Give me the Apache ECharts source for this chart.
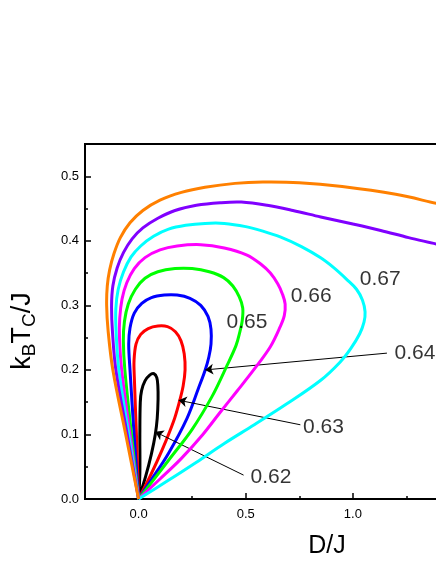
<!DOCTYPE html>
<html>
<head>
  <meta charset="utf-8">
  <title></title>
  <script src="https://cdn.jsdelivr.net/npm/echarts@6/dist/echarts.min.js"></script>
  <style>
    html, body { margin: 0; padding: 0; background: #fff; }
    #main { width: 436px; height: 564px; }
  </style>
</head>
<body>
  <div id="main"></div>
  <script type="text/javascript">
    // curves, [D/J, kBTc/J]
    var t062 = [[0,0],[0.006,0.04],[0.006,0.1],[0.008,0.15],[0.014,0.168],[0.03,0.183],[0.052,0.192],[0.072,0.194],[0.085,0.188],[0.09,0.175],[0.091,0.155],[0.087,0.125],[0.078,0.1],[0.06,0.07],[0.033,0.035],[0,0]];
    var t063 = [[0,0],[-0.01,0.1],[-0.02,0.19],[-0.021,0.215],[-0.012,0.24],[0.01,0.255],[0.045,0.264],[0.09,0.268],[0.135,0.267],[0.172,0.259],[0.198,0.245],[0.213,0.225],[0.217,0.2],[0.208,0.175],[0.19,0.15],[0.163,0.12],[0.11,0.076],[0.055,0.036],[0,0]];
    var t064 = [[0,0],[-0.021,0.1],[-0.04,0.2],[-0.046,0.24],[-0.04,0.265],[-0.02,0.288],[0.015,0.303],[0.06,0.312],[0.12,0.316],[0.18,0.316],[0.24,0.311],[0.29,0.3],[0.324,0.283],[0.338,0.263],[0.338,0.24],[0.328,0.22],[0.311,0.2],[0.28,0.172],[0.226,0.125],[0.14,0.071],[0.058,0.029],[0,0]];
    var t065 = [[0,0],[-0.033,0.1],[-0.064,0.2],[-0.071,0.245],[-0.066,0.275],[-0.048,0.302],[-0.015,0.325],[0.03,0.342],[0.09,0.352],[0.17,0.357],[0.25,0.357],[0.33,0.352],[0.397,0.343],[0.44,0.33],[0.47,0.313],[0.486,0.296],[0.484,0.277],[0.472,0.258],[0.455,0.238],[0.413,0.207],[0.343,0.159],[0.25,0.108],[0.14,0.06],[0.05,0.021],[0,0]];
    var t066 = [[0,0],[-0.04,0.1],[-0.079,0.2],[-0.089,0.25],[-0.088,0.28],[-0.077,0.31],[-0.055,0.335],[-0.02,0.357],[0.03,0.374],[0.1,0.386],[0.18,0.392],[0.29,0.394],[0.4,0.389],[0.506,0.378],[0.57,0.364],[0.615,0.35],[0.65,0.333],[0.672,0.317],[0.684,0.302],[0.68,0.284],[0.661,0.267],[0.615,0.236],[0.537,0.2],[0.459,0.167],[0.38,0.134],[0.3,0.1],[0.2,0.063],[0.1,0.031],[0,0]];
    var t067 = [[0,0],[-0.046,0.1],[-0.092,0.2],[-0.105,0.26],[-0.106,0.295],[-0.095,0.325],[-0.07,0.352],[-0.035,0.375],[0.01,0.392],[0.07,0.407],[0.14,0.418],[0.22,0.424],[0.31,0.427],[0.4,0.427],[0.5,0.422],[0.58,0.415],[0.661,0.406],[0.76,0.391],[0.848,0.374],[0.912,0.358],[0.972,0.34],[1.017,0.325],[1.045,0.308],[1.057,0.29],[1.052,0.274],[1.032,0.256],[0.99,0.233],[0.94,0.212],[0.85,0.184],[0.69,0.147],[0.54,0.115],[0.4,0.086],[0.27,0.057],[0.13,0.027],[0,0]];
    var t068 = [[0,0],[-0.053,0.1],[-0.106,0.2],[-0.122,0.26],[-0.126,0.3],[-0.12,0.33],[-0.1,0.358],[-0.07,0.382],[-0.03,0.403],[0.02,0.42],[0.09,0.435],[0.17,0.447],[0.27,0.455],[0.38,0.459],[0.48,0.46],[0.6,0.455],[0.72,0.447],[0.85,0.437],[1.0,0.426],[1.13,0.416],[1.26,0.405],[1.39,0.395],[1.5,0.386]];
    var t069 = [[0,0],[-0.06,0.1],[-0.12,0.2],[-0.142,0.26],[-0.149,0.3],[-0.146,0.33],[-0.135,0.355],[-0.115,0.38],[-0.085,0.405],[-0.04,0.428],[0.02,0.447],[0.1,0.463],[0.2,0.475],[0.31,0.483],[0.45,0.489],[0.58,0.491],[0.75,0.49],[0.95,0.484],[1.2,0.472],[1.39,0.458],[1.5,0.45]];

    var curves = [t062, t063, t064, t065, t066, t067, t068, t069];
    var colors = ['#000000', '#ff0000', '#0000ff', '#00ff00', '#ff00ff', '#00ffff', '#8000ff', '#ff8000'];

    var labelText = ['0.62', '0.63', '0.64', '0.65', '0.66', '0.67'];
    var labelPos = [[0.618,0.033],[0.863,0.111],[1.29,0.226],[0.506,0.274],[0.806,0.314],[1.128,0.341]];
    var arrows = [
      [[1.159,0.226],[0.311,0.2]],
      [[0.755,0.115],[0.187,0.153]],
      [[0.49,0.037],[0.078,0.104]]
    ];

    var xMajor = [0, 0.5, 1.0, 1.5];
    var xMinor = [0.25, 0.75, 1.25];
    var xLabels = [0, 0.5, 1.0];
    var yMajor = [0, 0.1, 0.2, 0.3, 0.4, 0.5];
    var yMinor = [0.05, 0.15, 0.25, 0.35, 0.45];

    var font = 'Liberation Sans';

    var myChart = echarts.init(document.getElementById('main'));

    // one smooth polyline per curve, points mapped through the axes
    var series = curves.map(function (c, i) {
      return {
        type: 'custom',
        data: c,
        renderItem: function (params, api) {
          if (params.dataIndex !== 0) return;
          var pts = c.map(function (p) { return api.coord(p); });
          return {
            type: 'polyline',
            shape: { points: pts, smooth: 0.35 },
            style: { stroke: colors[i], lineWidth: 3, fill: null, lineJoin: 'round' },
            silent: true
          };
        },
        z: 2 + i
      };
    });

    series.push({
      type: 'scatter',
      data: labelPos.map(function (p, i) { return [p[0], p[1], labelText[i]]; }),
      symbolSize: 0.1,
      itemStyle: { color: 'rgba(0,0,0,0)' },
      label: {
        show: true,
        position: 'inside',
        formatter: function (p) { return p.value[2]; },
        color: '#000',
        fontSize: 21,
        fontFamily: font
      },
      markLine: {
        silent: true,
        symbol: ['none', 'arrow'],
        symbolSize: 8,
        label: { show: false },
        lineStyle: { color: '#000', width: 1, type: 'solid' },
        data: arrows.map(function (a) {
          return [{ coord: a[0] }, { coord: a[1] }];
        })
      },
      z: 20
    });

    var option = {
      animation: false,
      backgroundColor: '#fff',
      grid: {
        left: 85, top: 144, width: 375, bottom: 65,
        outerBoundsMode: 'none', containLabel: false,
        show: true, borderColor: '#000', borderWidth: 2
      },
      xAxis: [{
        type: 'value', min: -0.25, max: 1.5, interval: 0.25, position: 'bottom',
        axisLine: { onZero: false, lineStyle: { color: '#000', width: 2 } },
        axisTick: { inside: true, length: 6, customValues: xMajor, lineStyle: { color: '#000', width: 1.5 } },
        axisLabel: {
          customValues: xLabels, color: '#000', fontSize: 13, fontFamily: font, margin: 9,
          formatter: function (v) { return v.toFixed(1); }
        },
        splitLine: { show: false }
      }, {
        type: 'value', min: -0.25, max: 1.5, interval: 0.25, position: 'bottom',
        axisLine: { show: false, onZero: false },
        axisTick: { inside: true, length: 3, customValues: xMinor, lineStyle: { color: '#000', width: 1.5 } },
        axisLabel: { show: false },
        splitLine: { show: false }
      }],
      yAxis: [{
        type: 'value', min: 0, max: 0.55, interval: 0.1, position: 'left',
        axisLine: { onZero: false, lineStyle: { color: '#000', width: 2 } },
        axisTick: { inside: true, length: 6, customValues: yMajor, lineStyle: { color: '#000', width: 1.5 } },
        axisLabel: {
          customValues: yMajor, color: '#000', fontSize: 13, fontFamily: font, margin: 6,
          formatter: function (v) { return v.toFixed(1); }
        },
        splitLine: { show: false }
      }, {
        type: 'value', min: 0, max: 0.55, interval: 0.1, position: 'left',
        axisLine: { show: false, onZero: false },
        axisTick: { inside: true, length: 3, customValues: yMinor, lineStyle: { color: '#000', width: 1.5 } },
        axisLabel: { show: false },
        splitLine: { show: false }
      }],
      graphic: [{
        type: 'text', x: 327, y: 546,
        style: { text: 'D/J', font: '25px ' + font, fill: '#000', align: 'center', verticalAlign: 'middle' }
      }, {
        type: 'text', x: 23, y: 331, rotation: Math.PI / 2,
        style: {
          text: '{m|k}{s|B}{m|T}{s|C}{m|/J}',
          align: 'center', verticalAlign: 'middle', fill: '#000',
          rich: {
            m: { fontSize: 27, fontFamily: font, lineHeight: 33, fill: '#000' },
            s: { fontSize: 19, fontFamily: font, lineHeight: 19, verticalAlign: 'bottom', fill: '#000' }
          }
        }
      }],
      series: series
    };
    myChart.setOption(option);
  </script>
</body>
</html>
